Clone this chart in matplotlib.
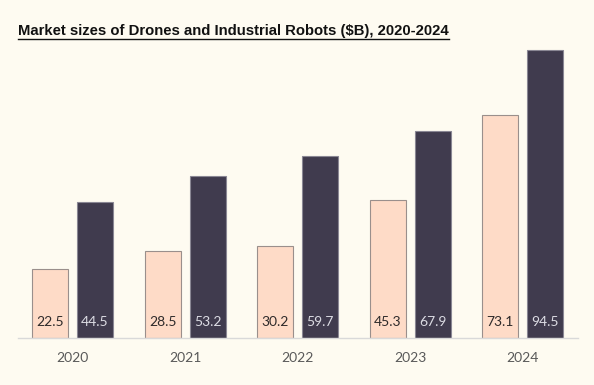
import matplotlib.pyplot as plt
import numpy as np

years = ['2020', '2021', '2022', '2023', '2024']
drones = [22.5, 28.5, 30.2, 45.3, 73.1]
robots = [44.5, 53.2, 59.7, 67.9, 94.5]

bg = '#fefbf1'
peach = '#fedbc7'
dark = '#403b4e'

fig = plt.figure(figsize=(5.94, 3.85), dpi=100, facecolor=bg)
ax = fig.add_axes([18 / 594, 47 / 385, 560 / 594, 305 / 385], facecolor=bg)

x = np.arange(len(years))
w = 0.32
ax.bar(x - 0.2, drones, w, color=peach, edgecolor='#9a8f8c', linewidth=0.8)
ax.bar(x + 0.2, robots, w, color=dark, edgecolor='#8a8794', linewidth=0.8)

# value labels near the bottom of each bar
for i in range(len(years)):
    ax.text(x[i] - 0.2, 5.2, f'{drones[i]:.1f}', ha='center', va='center',
            fontsize=10, family='Lato', color='#2e2a2a')
    ax.text(x[i] + 0.2, 5.2, f'{robots[i]:.1f}', ha='center', va='center',
            fontsize=10, family='Lato', color='#dcdce4')

ax.set_xlim(-0.485, 4.49)
ax.set_ylim(0, 100)
ax.set_xticks(x)
ax.set_xticklabels(years, fontsize=10, family='Lato', color='#595959')
ax.tick_params(axis='x', length=0, pad=10)
ax.set_yticks([])
for s in ['top', 'right', 'left']:
    ax.spines[s].set_visible(False)
ax.spines['bottom'].set_color('#d9d9d9')
ax.spines['bottom'].set_linewidth(1)

t = fig.text(18 / 594, 1 - 31 / 385, 'Market sizes of Drones and Industrial Robots ($B), 2020-2024',
             fontsize=10.75, fontweight='bold', family='Liberation Sans', color='#111111',
             va='center', ha='left')
# underline the title
fig.canvas.draw()
bb = t.get_window_extent()
y0 = bb.y0 - 1
fig.add_artist(plt.Line2D([bb.x0 / 594, bb.x1 / 594], [y0 / 385, y0 / 385],
                          color='#111111', linewidth=1.0, transform=fig.transFigure))

fig.savefig('out.png', dpi=100, facecolor=bg)
